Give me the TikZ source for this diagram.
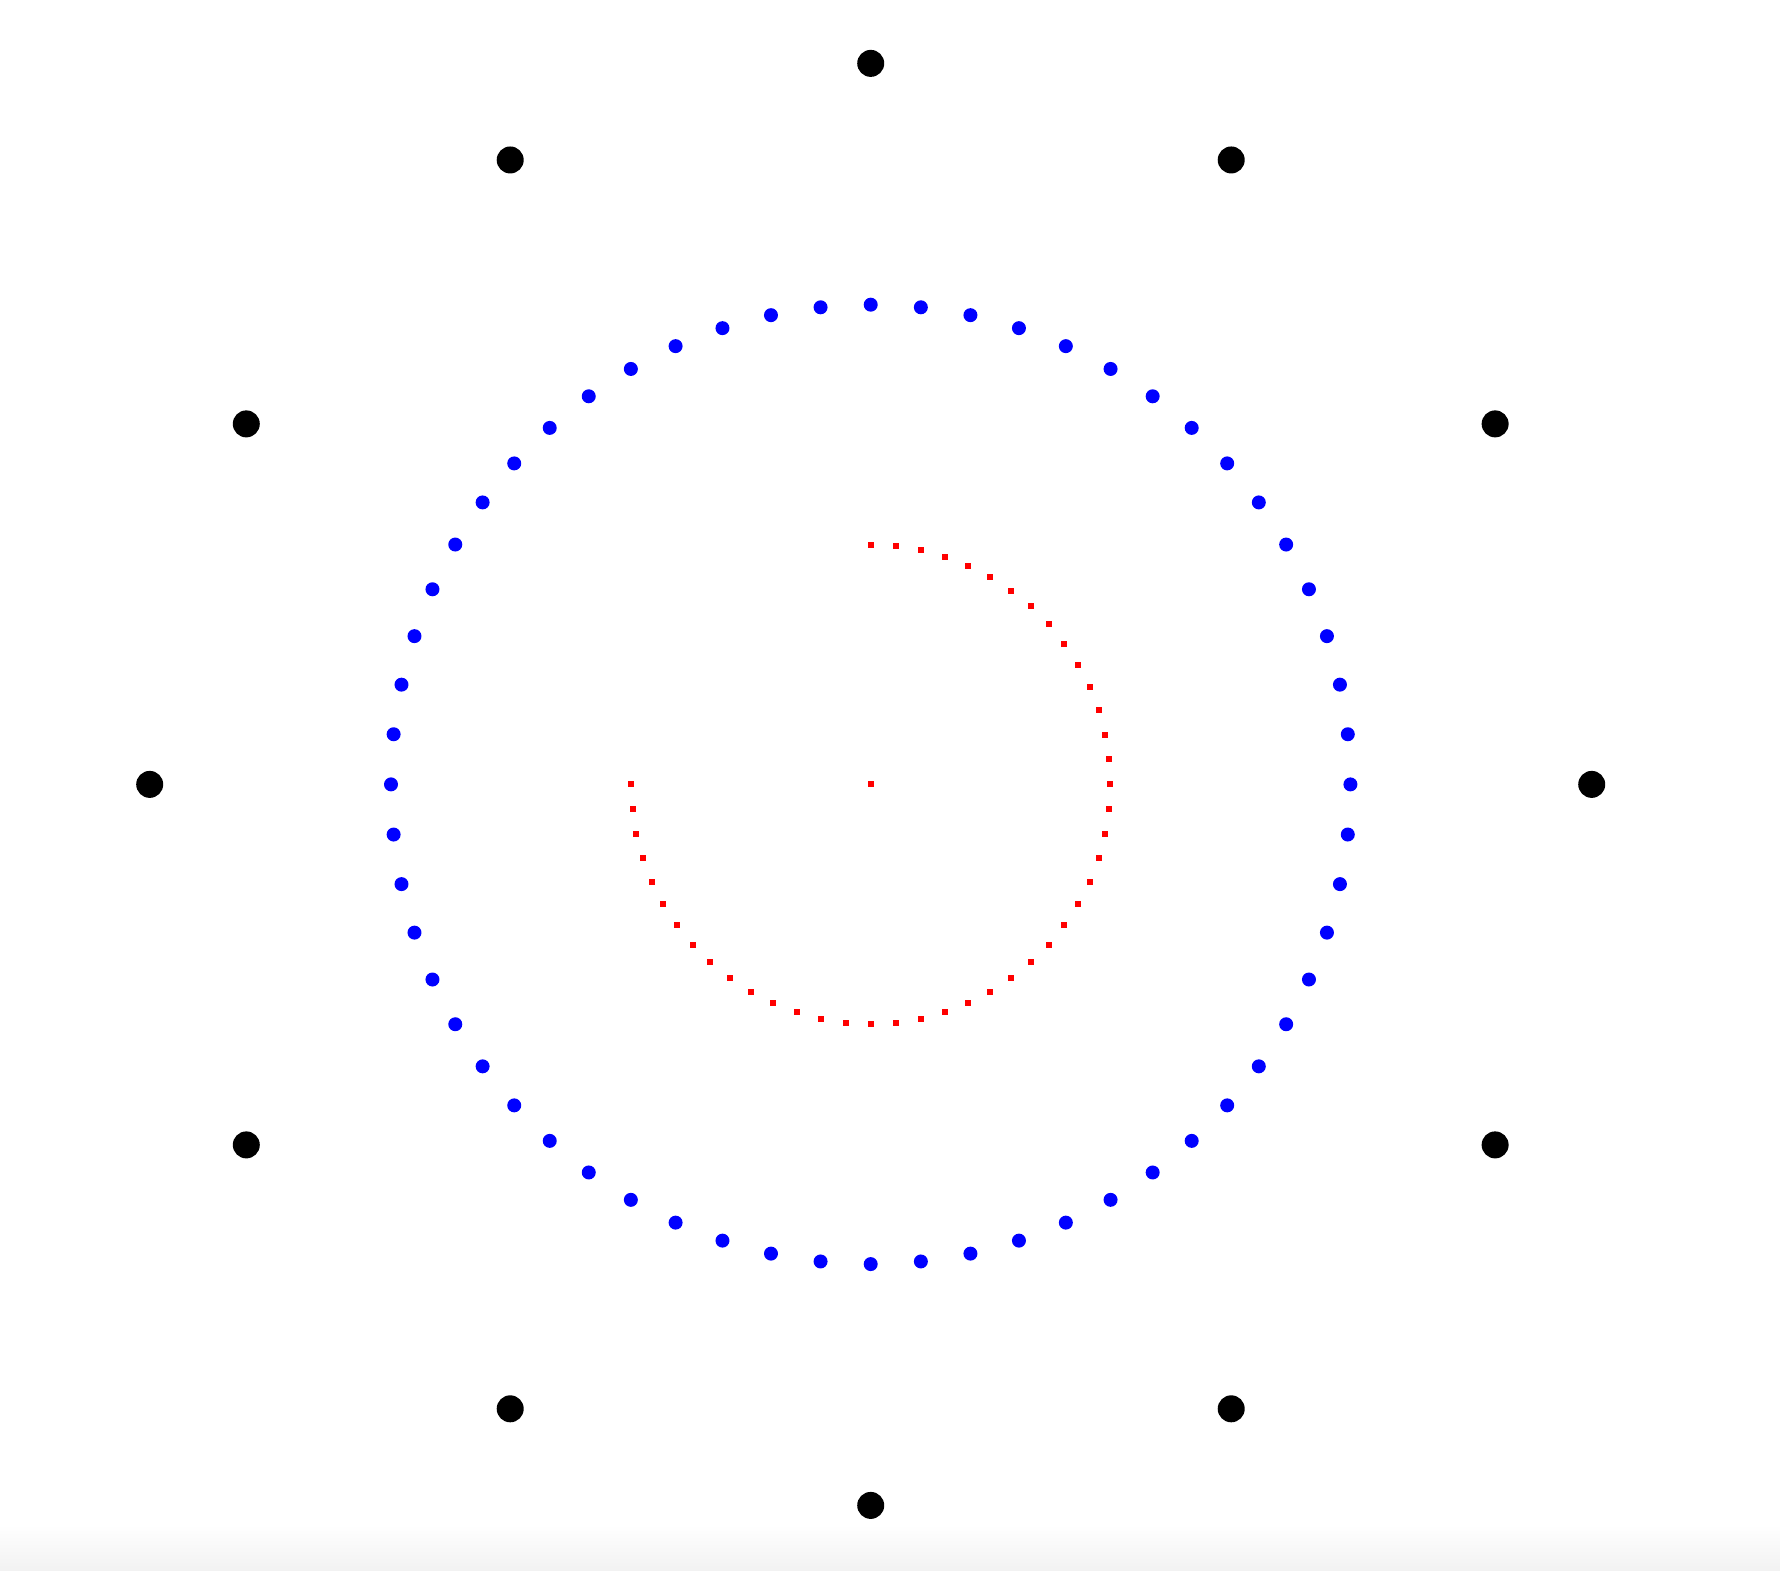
\documentclass[tikz,border=0pt]{standalone}
\begin{document}
\begin{tikzpicture}[x=0.01cm,y=0.01cm]
\useasboundingbox (0,0) rectangle (1780,1570);
\shade[top color=white,bottom color=black!5,draw=none] (0,0) rectangle (1780,45);
\coordinate (c) at (870.7,785.6);
% black outer dots
\foreach \a in {0,30,...,330}
  \fill[black] (c) ++(\a:721) circle[radius=13.5];
% blue ring
\foreach \i in {0,...,59}
  \fill[blue] (c) ++(\i*6:479.7) circle[radius=7];
% red dotted arc (every 6 degrees)
\foreach \i in {0,...,45}
  \fill[red] (c) ++(90-\i*6:239.5) ++(-3,-3) rectangle ++(6,6);
\fill[red] (c) ++(-3,-3) rectangle ++(6,6);
\end{tikzpicture}
\end{document}
